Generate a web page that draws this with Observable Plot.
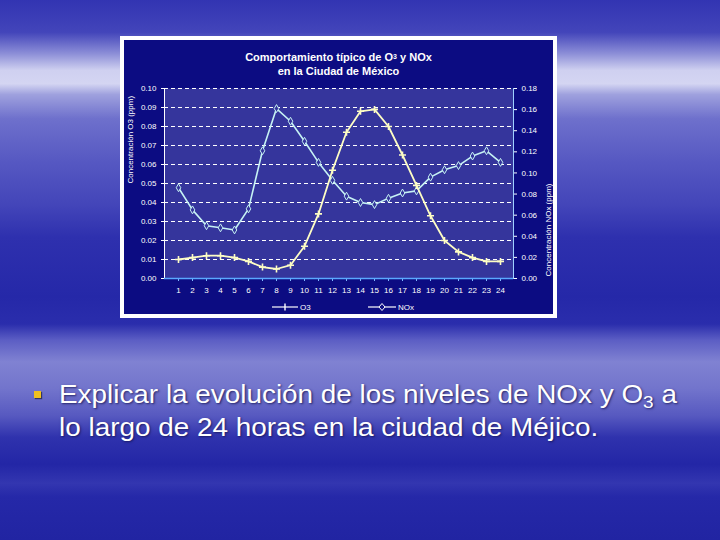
<!DOCTYPE html>
<html>
<head>
<meta charset="utf-8">
<script src="https://cdn.jsdelivr.net/npm/d3@7"></script>
<script src="https://cdn.jsdelivr.net/npm/@observablehq/plot@0.6"></script>
<style>
  html, body { margin: 0; padding: 0; }
  body {
    width: 720px; height: 540px; overflow: hidden; position: relative;
    font-family: "Liberation Sans", Arial, sans-serif;
    background:
      linear-gradient(to bottom,
        #3234b2 0%, #4345ba 6%, #8e90d8 10%, #cfd0f0 13%, #d4d5f2 15.5%, #9fa1de 17.5%,
        #6e70cc 22%, #5658c2 30%, #4345b9 38%, #2e30ae 44%, #2528a8 55%, #2a2dac 60%,
        #5c5ec4 63%, #8082d2 67%, #7274cc 72%, #5759c0 77%, #2f32ad 81%, #2326a6 86%,
        #3336b0 89.5%, #2528a8 92%, #2124a2 100%);
  }
  #box {
    position: absolute; left: 120px; top: 36px; width: 437px; height: 282px;
    box-sizing: border-box; border: 4px solid #ffffff; background: #0c0c82;
  }
  #chart { position: absolute; left: 0; top: 0; }
  #title {
    position: absolute; left: 0; width: 429px; top: 10px; text-align: center;
    color: #ffffff; font-weight: bold; font-size: 11px; line-height: 14px;
    font-family: "Liberation Sans", Arial, sans-serif;
  }
  #title sub { font-size: 7px; vertical-align: 2px; }
  #legend {
    position: absolute; top: 262px; left: 0; width: 429px; height: 12px;
    color: #ffffff; font-size: 8px;
  }
  .lg { position: absolute; top: 0; display: flex; align-items: center; gap: 2px; }
  #bullet {
    position: absolute; left: 34px; top: 378px; width: 640px;
    color: #ffffff; font-size: 25px; line-height: 33px;
    text-shadow: 1px 1px 2px rgba(20,20,80,0.8);
  }
  #bullet .sq {
    position: absolute; left: 0; top: 13px; width: 7px; height: 7px;
    background: #f0c020; box-shadow: 1px 1px 1px rgba(0,0,0,0.5);
  }
  #bullet .txt {
    position: absolute; left: 25px; top: 0; white-space: nowrap;
    transform: scaleX(1.115); transform-origin: left top;
  }
  #bullet sub { font-size: 17px; vertical-align: -5px; line-height: 0; }
</style>
</head>
<body>
<div id="box">
  <div id="chart"></div>
  <div id="title">Comportamiento típico de O<sub>3</sub> y NOx<br>en la Ciudad de México</div>
  <div id="legend">
    <div class="lg" style="left:148px">
      <svg width="26" height="10"><line x1="0" y1="5" x2="26" y2="5" stroke="#ffffff" stroke-width="1.2"/><line x1="13" y1="1.5" x2="13" y2="8.5" stroke="#ffffff" stroke-width="1.4"/></svg><span>O3</span>
    </div>
    <div class="lg" style="left:244px">
      <svg width="28" height="10"><line x1="0" y1="5" x2="28" y2="5" stroke="#ffffff" stroke-width="1.2"/><path d="M14,1.5 L17,5 L14,8.5 L11,5 Z" fill="#0c0c82" stroke="#ffffff" stroke-width="1"/></svg><span>NOx</span>
    </div>
  </div>
</div>
<div id="bullet"><span class="sq"></span><span class="txt">Explicar la evolución de los niveles de NOx y O<sub>3</sub> a<br>lo largo de 24 horas en la ciudad de Méjico.</span></div>

<script>
// Hours of the day
const hours = [1,2,3,4,5,6,7,8,9,10,11,12,13,14,15,16,17,18,19,20,21,22,23,24];
// O3 concentration (ppm), left axis
const o3 = [0.010,0.011,0.012,0.012,0.011,0.009,0.006,0.005,0.007,0.017,0.034,0.057,0.077,0.088,0.089,0.080,0.065,0.049,0.033,0.020,0.014,0.011,0.009,0.009];
// NOx concentration (ppm), right axis
const nox = [0.086,0.065,0.050,0.048,0.046,0.066,0.121,0.161,0.149,0.130,0.110,0.093,0.078,0.072,0.070,0.076,0.081,0.083,0.096,0.103,0.107,0.116,0.121,0.110];
// Tick labels
const leftTicks = [0,0.01,0.02,0.03,0.04,0.05,0.06,0.07,0.08,0.09,0.10];
const rightTicks = [0,0.02,0.04,0.06,0.08,0.10,0.12,0.14,0.16,0.18];
const leftMax = 0.10, rightMax = 0.18;
const ratio = rightMax / leftMax;

const o3Data = hours.map((h, i) => ({hour: h, v: o3[i]}));
const noxData = hours.map((h, i) => ({hour: h, v: nox[i] / ratio}));

const o3Color = "#fdfdc4";
const noxColor = "#c6f2f4";

const chart = Plot.plot({
  width: 429,
  height: 274,
  marginLeft: 40,
  marginRight: 40,
  marginTop: 48,
  marginBottom: 36,
  style: {background: "transparent", fontFamily: "Liberation Sans, Arial, sans-serif", fontSize: "8px", color: "#ffffff"},
  x: {type: "band", domain: hours, padding: 0},
  y: {domain: [0, leftMax]},
  marks: [
    Plot.frame({fill: "#35359c", stroke: null}),
    Plot.ruleY(leftTicks.filter(d => d > 0), {stroke: "#ffffff", strokeDasharray: "4,3", strokeWidth: 1}),
    Plot.axisY(leftTicks, {anchor: "left", tickFormat: d3.format(".2f"), tickSize: 3, tickPadding: 5, stroke: "#ffffff", fill: "#ffffff", label: null}),
    Plot.axisY(rightTicks.map(v => v / ratio), {anchor: "right", tickFormat: d => (d * ratio).toFixed(2), tickSize: 3, tickPadding: 5, stroke: "#ffffff", fill: "#ffffff", label: null}),
    Plot.axisX({tickSize: 3, tickPadding: 6, stroke: "#7fb7ff", fill: "#ffffff", label: null}),
    Plot.frame({anchor: "left", stroke: "#ffffff"}),
    Plot.frame({anchor: "right", stroke: "#9fd0ff"}),
    Plot.ruleY([0], {stroke: "#5aa8ff", strokeWidth: 1.5}),
    Plot.text(["Concentración O3 (ppm)"], {frameAnchor: "left", dx: -34, rotate: -90, fill: "#ffffff", fontSize: 8}),
    Plot.text(["Concentración NOx (ppm)"], {frameAnchor: "right", dx: 35, rotate: -90, fill: "#ffffff", fontSize: 8}),
    Plot.line(noxData, {x: "hour", y: "v", stroke: noxColor, strokeWidth: 1.6}),
    Plot.dot(noxData, {x: "hour", y: "v", symbol: "diamond", r: 2.4, stroke: noxColor, fill: "#35359c", strokeWidth: 1}),
    Plot.line(o3Data, {x: "hour", y: "v", stroke: o3Color, strokeWidth: 1.8}),
    Plot.dot(o3Data, {x: "hour", y: "v", symbol: "plus", r: 2.4, stroke: o3Color, strokeWidth: 1.6})
  ]
});
document.getElementById("chart").appendChild(chart);
</script>
</body>
</html>
